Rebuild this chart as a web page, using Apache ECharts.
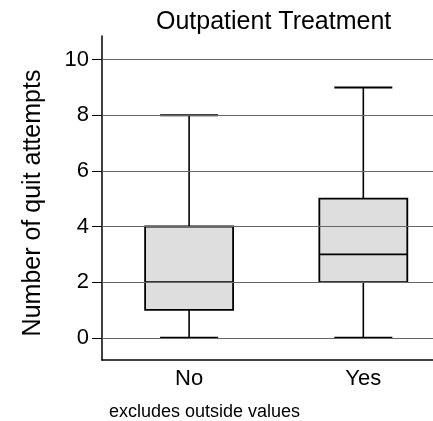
<!DOCTYPE html>
<html>
<head>
<meta charset="utf-8">
<script src="https://cdn.jsdelivr.net/npm/echarts@6/dist/echarts.min.js"></script>
<style>
html,body{margin:0;padding:0;background:#fff;}
#chart{width:433px;height:421px;}
</style>
</head>
<body>
<div id="chart"></div>
<script>
var categories = ['No', 'Yes'];
var categoryPositions = [0, 1];
var mins = [0, 0];
var q1s = [1, 2];
var medians = [2, 3];
var q3s = [4, 5];
var maxs = [8, 9];
var yTicks = [0, 2, 4, 6, 8, 10];
var titleText = 'Outpatient Treatment';
var yAxisTitle = 'Number of quit attempts';
var noteText = 'excludes outside values';

var FONT = '"Liberation Sans", Arial, Helvetica, sans-serif';
var data = categories.map(function (c, i) {
  return [categoryPositions[i], mins[i], q1s[i], medians[i], q3s[i], maxs[i]];
});

var chart = echarts.init(document.getElementById('chart'), null, {renderer: 'canvas'});
chart.setOption({
  animation: false,
  backgroundColor: '#ffffff',
  title: {
    text: titleText,
    left: 151,
    top: 5,
    textStyle: {fontFamily: FONT, fontSize: 25, fontWeight: 'normal', color: '#000'}
  },
  grid: {left: 102, right: 0, top: 36, height: 324, containLabel: false},
  xAxis: {
    type: 'value',
    min: -0.5,
    max: 1.4,
    axisLine: {show: true, onZero: false, lineStyle: {color: '#000', width: 1.5}},
    axisTick: {show: false},
    axisLabel: {
      customValues: categoryPositions,
      formatter: function (v) { return categories[Math.round(v)]; },
      fontFamily: FONT, fontSize: 22, color: '#000', margin: 8
    },
    splitLine: {show: false}
  },
  yAxis: {
    type: 'value',
    min: -0.8,
    max: 10.85,
    name: yAxisTitle,
    nameLocation: 'middle',
    nameGap: 56,
    nameTextStyle: {fontFamily: FONT, fontSize: 25, color: '#000', padding: [0, 10, 0, 0]},
    axisLine: {show: true, onZero: false, lineStyle: {color: '#000', width: 1.5}},
    axisTick: {show: true, customValues: yTicks, length: 10, lineStyle: {color: '#000', width: 1}},
    axisLabel: {customValues: yTicks, fontFamily: FONT, fontSize: 22, color: '#000', margin: 13},
    splitLine: {show: false}
  },
  series: [{
    type: 'line',
    data: [],
    markLine: {
      silent: true,
      symbol: 'none',
      label: {show: false},
      lineStyle: {color: '#666', width: 1, type: 'solid'},
      data: yTicks.map(function (v) { return {yAxis: v}; })
    }
  }, {
    type: 'custom',
    data: data,
    encode: {x: 0, y: [1, 2, 3, 4, 5]},
    renderItem: function (params, api) {
      var x = api.value(0);
      var band = api.size([1, 0])[0];
      var boxW = band * 0.505;
      var capW = band * 0.333;
      var pMin = api.coord([x, api.value(1)]);
      var pQ1 = api.coord([x, api.value(2)]);
      var pMed = api.coord([x, api.value(3)]);
      var pQ3 = api.coord([x, api.value(4)]);
      var pMax = api.coord([x, api.value(5)]);
      var cx = pMin[0];
      var st = {stroke: '#000', lineWidth: 1.6};
      return {
        type: 'group',
        children: [
          {type: 'line', shape: {x1: cx, y1: pMax[1], x2: cx, y2: pQ3[1]}, style: st},
          {type: 'line', shape: {x1: cx, y1: pQ1[1], x2: cx, y2: pMin[1]}, style: st},
          {type: 'line', shape: {x1: cx - capW / 2, y1: pMax[1], x2: cx + capW / 2, y2: pMax[1]}, style: {stroke: '#000', lineWidth: 2}},
          {type: 'line', shape: {x1: cx - capW / 2, y1: pMin[1], x2: cx + capW / 2, y2: pMin[1]}, style: {stroke: '#000', lineWidth: 2}},
          {type: 'rect', shape: {x: cx - boxW / 2, y: pQ3[1], width: boxW, height: pQ1[1] - pQ3[1]},
            style: {fill: '#dedede', stroke: '#000', lineWidth: 1.8}},
          {type: 'line', shape: {x1: cx - boxW / 2, y1: pMed[1], x2: cx + boxW / 2, y2: pMed[1]}, style: {stroke: '#000', lineWidth: 1.8}}
        ]
      };
    }
  }],
  graphic: [{
    type: 'text',
    left: 109,
    top: 403,
    style: {text: noteText, font: '18px ' + FONT, fill: '#000'}
  }]
});
</script>
</body>
</html>
